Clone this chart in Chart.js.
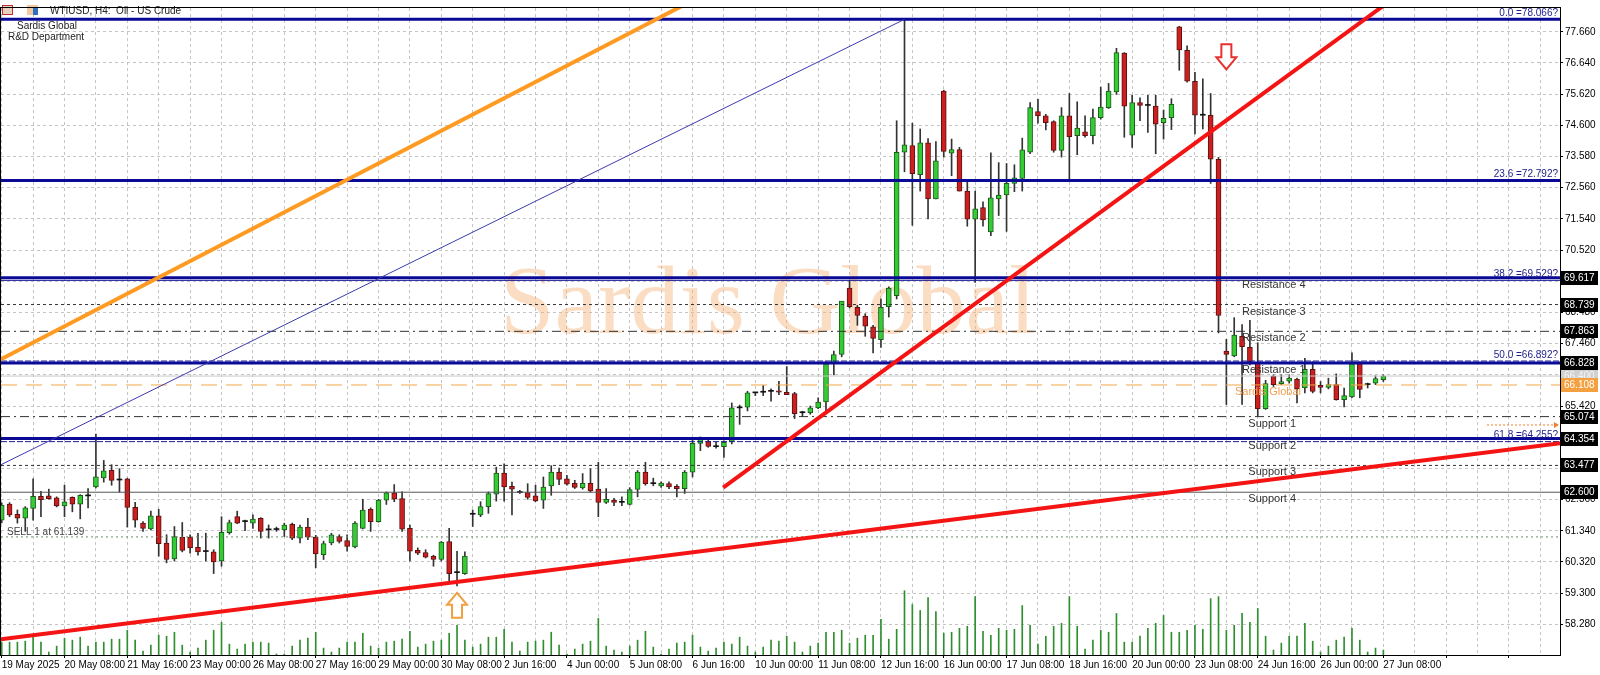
<!DOCTYPE html>
<html>
<head>
<meta charset="utf-8">
<script src="https://cdn.jsdelivr.net/npm/chart.js@4.4.1/dist/chart.umd.min.js"></script>
<style>
html, body { margin: 0; padding: 0; background: #fff; }
canvas { display: block; }
</style>
</head>
<body>
<canvas id="chart" width="1600" height="675"></canvas>
<script>
// WTIUSD H4 candles, 19 May - 27 Jun 2025
const xLabels = ['19 May 2025', '20 May 08:00', '21 May 16:00', '23 May 00:00', '26 May 08:00', '27 May 16:00',
	'29 May 00:00', '30 May 08:00', '2 Jun 16:00', '4 Jun 00:00', '5 Jun 08:00', '6 Jun 16:00', '10 Jun 00:00',
	'11 Jun 08:00', '12 Jun 16:00', '16 Jun 00:00', '17 Jun 08:00', '18 Jun 16:00', '20 Jun 00:00',
	'23 Jun 08:00', '24 Jun 16:00', '26 Jun 00:00', '27 Jun 08:00'];

const yTicks = [58.28, 59.30, 60.32, 61.34, 62.36, 63.38, 64.40, 65.42, 66.44, 67.46,
	68.48, 69.50, 70.52, 71.54, 72.56, 73.58, 74.60, 75.62, 76.64, 77.66];

const opens = [
	61.69, 62.21, 61.88, 61.75, 62.07, 62.47, 62.48, 62.42, 62.15, 62.43,
	62.21, 62.48, 62.77, 63.07, 63.32, 63.00, 63.04, 62.11, 61.59, 61.40,
	61.83, 60.94, 60.42, 61.13, 61.13, 60.80, 60.66, 60.65, 60.35, 61.28,
	61.80, 61.64, 61.59, 61.75, 61.37, 61.38, 61.37, 61.55, 61.10, 61.46,
	61.13, 60.56, 60.94, 61.15, 61.02, 60.81, 61.42, 62.04, 61.64, 62.34,
	62.58, 62.39, 61.42, 60.70, 60.63, 60.51, 60.40, 60.99, 59.97, 59.94,
	61.88, 61.86, 62.13, 62.54, 63.23, 62.79, 62.59, 62.59, 62.48, 62.34,
	62.81, 63.26, 63.04, 62.89, 62.74, 62.89, 62.70, 62.27, 62.34, 62.27,
	62.20, 62.69, 63.26, 62.88, 62.81, 62.88, 62.79, 62.72, 63.26, 64.20,
	64.26, 64.09, 64.09, 64.26, 65.36, 65.38, 65.85, 65.87, 65.90, 65.92,
	65.87, 65.83, 65.20, 65.20, 65.36, 65.55, 66.84, 67.11, 69.28, 68.65,
	68.36, 68.01, 67.59, 68.67, 69.03, 73.72, 73.94, 72.99, 74.03, 72.19,
	75.72, 73.69, 73.81, 72.45, 71.53, 71.91, 71.11, 72.19, 72.32, 72.70,
	72.86, 73.72, 75.05, 74.91, 74.72, 73.78, 74.91, 74.26, 74.39, 74.26,
	74.85, 75.18, 75.69, 76.96, 74.28, 75.34, 75.25, 75.23, 74.69, 74.85,
	77.82, 77.05, 76.04, 74.93, 74.93, 73.49, 67.22, 67.06, 67.70, 67.34,
	66.84, 65.33, 66.39, 66.15, 66.23, 66.30, 66.01, 66.62, 66.10, 66.03,
	66.12, 65.63, 65.72, 66.80, 66.12, 66.17, 66.28];

const highs = [
	62.25, 62.26, 62.02, 62.13, 63.04, 62.63, 62.70, 62.45, 62.83, 62.45,
	62.52, 62.72, 64.50, 63.64, 63.50, 63.37, 63.06, 62.27, 61.64, 61.98,
	62.04, 61.21, 61.48, 61.61, 61.21, 61.26, 61.26, 60.72, 61.80, 61.69,
	61.98, 61.69, 61.86, 61.77, 61.53, 61.46, 61.59, 61.59, 61.53, 61.75,
	61.19, 61.00, 61.26, 61.21, 61.21, 61.64, 62.37, 62.09, 62.37, 62.61,
	62.85, 62.61, 61.53, 60.78, 60.72, 60.54, 60.99, 61.42, 60.67, 60.65,
	62.02, 62.29, 62.61, 63.42, 63.53, 62.93, 62.66, 62.88, 62.83, 63.10,
	63.47, 63.39, 63.15, 62.99, 63.21, 63.37, 63.58, 62.72, 62.40, 62.45,
	62.75, 63.31, 63.58, 63.06, 62.94, 62.94, 62.85, 63.31, 64.39, 64.41,
	64.34, 64.23, 64.28, 65.52, 65.45, 65.90, 65.87, 66.09, 65.98, 66.23,
	66.71, 65.87, 65.25, 65.42, 65.69, 66.87, 67.22, 68.81, 69.52, 68.71,
	68.44, 68.06, 68.92, 69.32, 74.75, 78.07, 74.67, 74.48, 74.17, 74.07,
	75.75, 74.15, 73.88, 72.75, 72.45, 72.10, 73.70, 73.38, 73.35, 73.31,
	74.18, 75.34, 75.45, 74.96, 74.75, 75.18, 75.64, 75.37, 74.91, 75.13,
	75.85, 75.97, 77.12, 76.98, 75.58, 75.50, 75.58, 75.58, 75.10, 75.47,
	77.84, 77.20, 76.33, 76.12, 75.64, 73.55, 67.60, 68.31, 68.08, 68.22,
	67.49, 66.26, 66.44, 66.44, 66.44, 66.33, 66.98, 66.87, 66.22, 66.33,
	66.47, 66.01, 67.16, 66.87, 66.17, 66.41, 66.44];

const lows = [
	61.60, 61.80, 61.59, 61.32, 61.69, 61.80, 62.37, 62.12, 61.80, 61.96,
	61.73, 62.09, 62.74, 62.93, 62.83, 62.61, 61.46, 61.46, 61.32, 61.37,
	60.51, 60.29, 60.35, 60.65, 60.61, 60.54, 60.35, 59.94, 60.18, 61.23,
	61.57, 61.34, 61.42, 61.10, 61.10, 61.32, 61.15, 61.05, 60.94, 61.05,
	60.13, 60.40, 60.88, 60.94, 60.67, 60.78, 61.40, 61.32, 61.62, 62.20,
	62.29, 61.32, 60.35, 60.56, 60.45, 60.18, 60.35, 59.70, 59.54, 59.91,
	61.48, 61.80, 61.91, 62.31, 62.31, 61.86, 62.56, 62.37, 62.29, 62.07,
	62.50, 62.85, 62.83, 62.72, 62.70, 62.61, 61.80, 62.23, 62.16, 62.16,
	62.18, 62.45, 62.83, 62.81, 62.76, 62.72, 62.45, 62.56, 63.10, 63.96,
	64.07, 64.04, 63.74, 64.18, 64.82, 65.26, 65.76, 65.76, 65.58, 65.79,
	65.79, 65.01, 65.07, 65.15, 65.33, 65.20, 66.44, 67.03, 68.63, 68.06,
	67.70, 67.16, 67.34, 68.33, 68.92, 73.08, 71.33, 72.45, 71.54, 72.19,
	73.56, 72.95, 72.45, 71.30, 69.46, 71.30, 70.99, 71.65, 71.13, 72.43,
	72.45, 73.67, 74.67, 74.45, 73.72, 73.56, 72.81, 73.64, 74.21, 73.99,
	74.80, 75.15, 75.61, 74.21, 73.88, 74.75, 74.37, 73.67, 74.15, 74.46,
	76.40, 76.01, 74.32, 74.48, 72.70, 67.81, 65.47, 67.03, 65.47, 66.76,
	65.09, 65.31, 66.06, 66.12, 66.17, 65.52, 65.85, 65.85, 65.85, 65.98,
	65.61, 65.39, 65.69, 65.69, 66.01, 66.12, 66.22];

const closes = [
	62.18, 61.86, 61.75, 62.09, 62.47, 62.36, 62.39, 62.15, 62.29, 62.21,
	62.50, 62.48, 63.10, 63.30, 62.99, 63.00, 62.10, 61.69, 61.42, 61.83,
	60.92, 60.40, 61.15, 60.70, 60.78, 60.65, 60.66, 60.32, 61.29, 61.61,
	61.59, 61.64, 61.72, 61.32, 61.37, 61.38, 61.53, 61.10, 61.46, 61.13,
	60.58, 60.92, 61.21, 60.99, 60.83, 61.59, 62.02, 61.64, 62.34, 62.58,
	62.37, 61.39, 60.67, 60.61, 60.48, 60.40, 60.97, 59.94, 59.97, 60.51,
	61.88, 62.13, 62.56, 63.23, 62.77, 62.70, 62.59, 62.43, 62.32, 62.77,
	63.26, 63.02, 62.86, 62.76, 62.89, 62.64, 62.27, 62.37, 62.27, 62.27,
	62.69, 63.26, 62.88, 62.88, 62.90, 62.77, 62.72, 63.26, 64.20, 64.38,
	64.10, 64.09, 64.23, 65.36, 65.36, 65.85, 65.85, 65.87, 65.90, 65.87,
	65.79, 65.17, 65.20, 65.36, 65.55, 66.80, 67.10, 68.85, 68.67, 68.38,
	68.03, 67.63, 68.65, 69.28, 73.72, 73.96, 73.02, 74.03, 72.19, 73.44,
	73.75, 73.81, 72.45, 71.53, 71.87, 71.51, 72.23, 72.32, 72.70, 72.88,
	73.80, 75.18, 74.91, 74.69, 73.78, 74.91, 74.23, 74.51, 74.26, 74.85,
	75.20, 75.72, 76.98, 75.23, 75.34, 75.25, 75.25, 74.64, 74.83, 75.29,
	77.07, 76.04, 74.93, 74.93, 73.49, 68.38, 67.11, 67.74, 67.36, 66.87,
	65.33, 66.15, 66.12, 66.22, 66.33, 65.98, 66.62, 65.90, 66.03, 66.12,
	65.63, 65.76, 66.80, 65.96, 66.12, 66.32, 66.40];

// tick volume, in the pane's own units
const volumes = [
	13, 13, 13, 14, 18, 13, 3, 9, 17, 15, 18, 9, 13, 13, 16, 16, 25, 15, 4, 10,
	20, 19, 23, 10, 3, 7, 15, 25, 33, 11, 6, 11, 13, 13, 12, 1, 1, 9, 15, 17,
	23, 7, 3, 7, 13, 13, 22, 9, 7, 13, 14, 16, 24, 8, 11, 14, 15, 22, 30, 15,
	8, 11, 18, 18, 26, 13, 4, 13, 14, 15, 23, 10, 1, 6, 11, 14, 37, 9, 5, 3,
	9, 15, 24, 8, 1, 6, 12, 13, 20, 8, 4, 7, 13, 11, 18, 9, 3, 8, 15, 14,
	19, 13, 3, 9, 12, 23, 23, 25, 12, 17, 20, 20, 36, 16, 26, 65, 51, 45, 58, 44,
	22, 23, 27, 29, 59, 24, 20, 27, 25, 26, 50, 30, 11, 19, 29, 32, 59, 29, 6, 15,
	25, 23, 42, 13, 13, 19, 27, 32, 40, 23, 23, 25, 30, 26, 57, 59, 25, 30, 42, 33,
	47, 19, 5, 12, 19, 19, 32, 14, 3, 9, 15, 18, 27, 15, 3, 7, 5];

// levels drawn on the chart
const fibLevels = [78.066, 72.792, 69.529, 66.892, 64.255];
const fibNames = ['0.0', '23.6', '38.2', '50.0', '61.8'];
const resistance = [66.828, 67.863, 68.739, 69.617];   // R1..R4
const support = [65.074, 64.354, 63.477, 62.600];      // S1..S4
const sardisLevel = 66.108;
const sellLevel = 61.139;
const orderLevel = 64.80;

// trend lines: [bar, price] end points
const orangeTrend = [[-0.1, 66.95], [100, 80.28]];
const blueDiag = [[-0.1, 63.50], [115, 78.066]];
const redLower = [[-0.1, 57.79], [198.5, 64.20]];
const redSteep = [[91.9, 62.75], [180, 79.26]];

// arrows: [bar, tip price]
const upArrow = [58, 59.31];
const downArrow = [156, 76.43];

const X_MIN = -0.09, X_MAX = 198.5;
const FONT = '"Liberation Sans", Arial, sans-serif';

const bars = opens.map((v, i) => i);
const lastClose = closes[closes.length - 1];

function candleColor(i, up, down, flat) {
	if (closes[i] > opens[i]) return up;
	if (closes[i] < opens[i]) return down;
	return flat;
}

function hLine(value, color, width, dash) {
	return {
		type: 'line',
		data: [{x: X_MIN, y: value}, {x: X_MAX, y: value}],
		borderColor: color, borderWidth: width, borderDash: dash || [],
		pointRadius: 0, order: 5
	};
}

function trend(pts, color, width) {
	return {
		type: 'line',
		data: pts.map(p => ({x: p[0], y: p[1]})),
		borderColor: color, borderWidth: width,
		pointRadius: 0, order: 3
	};
}

const dotted = [3, 3];
const dashDot = [9, 4, 2, 4];

const datasets = [
	{
		type: 'bar', yAxisID: 'yv', grouped: false, order: 10,
		data: bars.map(i => ({x: i, y: volumes[i]})),
		backgroundColor: '#2f8f2f', barThickness: 1
	},
	{
		type: 'bar', grouped: false, order: 9,
		data: bars.map(i => ({x: i, y: [lows[i], highs[i]]})),
		backgroundColor: '#333', barThickness: 1
	},
	{
		type: 'bar', grouped: false, order: 8,
		data: bars.map(i => ({x: i, y: [Math.min(opens[i], closes[i]), Math.max(opens[i], closes[i])]})),
		backgroundColor: bars.map(i => candleColor(i, '#33cc33', '#cc2020', '#111')),
		borderColor: bars.map(i => candleColor(i, '#1d5c1d', '#5c1010', '#111')),
		borderWidth: bars.map(i => closes[i] === opens[i] ? 0 : 1),
		borderSkipped: false, barThickness: 5, minBarLength: 1
	},
	// fib levels
	hLine(fibLevels[0], '#0a0a96', 3),
	hLine(fibLevels[1], '#0a0a96', 3),
	hLine(fibLevels[2], '#1a1a9a', 1),
	hLine(fibLevels[3], '#1a1a9a', 1, [6, 2]),
	hLine(fibLevels[4], '#1a1a9a', 1, [6, 2]),
	// resistance / support
	hLine(resistance[0], '#0a0a96', 3),
	hLine(resistance[1], '#333', 1, dashDot),
	hLine(resistance[2], '#333', 1, dotted),
	hLine(resistance[3], '#0a0a96', 3),
	hLine(support[0], '#333', 1, dashDot),
	hLine(support[1], '#0a0a96', 3),
	hLine(support[2], '#333', 1, dotted),
	hLine(support[3], '#555', 1),
	hLine(sardisLevel, '#f0a848', 1, [16, 9]),
	hLine(sellLevel, '#6f8f6f', 1, [2, 3]),
	hLine(lastClose, '#c8c8c8', 1),
	// trend lines
	trend(orangeTrend, '#ff9a22', 4),
	trend(blueDiag, '#3a3ab0', 1),
	trend(redLower, '#f51414', 4),
	trend(redSteep, '#f51414', 4)
];

function drawArrow(ctx, x, y, dir, stroke) {
	// hollow block arrow, tip at (x, y); dir -1 points up, +1 points down
	const hw = 10, sw = 5, hh = 12, len = 25;
	ctx.beginPath();
	ctx.moveTo(x, y);
	ctx.lineTo(x + hw, y - dir * hh);
	ctx.lineTo(x + sw, y - dir * hh);
	ctx.lineTo(x + sw, y - dir * len);
	ctx.lineTo(x - sw, y - dir * len);
	ctx.lineTo(x - sw, y - dir * hh);
	ctx.lineTo(x - hw, y - dir * hh);
	ctx.closePath();
	ctx.fillStyle = '#fff';
	ctx.fill();
	ctx.strokeStyle = stroke;
	ctx.lineWidth = 2;
	ctx.stroke();
}

const decorPlugin = {
	id: 'decor',
	beforeDatasetsDraw(chart) {
		const ctx = chart.ctx;
		ctx.save();
		// watermark
		ctx.font = '98px "Liberation Serif", "DejaVu Serif", serif';
		ctx.fillStyle = 'rgba(245, 180, 120, 0.45)';
		ctx.textAlign = 'center';
		ctx.textBaseline = 'alphabetic';
		ctx.fillText('Sardis Global', 768, 333);
		// header
		ctx.fillStyle = '#e8d0c0';
		ctx.fillRect(2, 5, 11, 10);
		ctx.strokeStyle = '#c03030';
		ctx.lineWidth = 1;
		ctx.strokeRect(2.5, 5.5, 10, 9);
		ctx.fillStyle = '#f2c8a0';
		ctx.fillRect(27, 5, 11, 10);
		ctx.fillStyle = '#3070c0';
		ctx.fillRect(33, 8, 5, 7);
		ctx.font = '10px ' + FONT;
		ctx.fillStyle = '#222';
		ctx.textAlign = 'left';
		ctx.textBaseline = 'middle';
		ctx.fillText('WTIUSD, H4:  Oil - US Crude', 50, 11);
		ctx.textAlign = 'center';
		ctx.fillText('Sardis Global', 47, 26);
		ctx.fillText('R&D Department', 46, 37);
		ctx.restore();
	},
	afterDatasetsDraw(chart) {
		const ctx = chart.ctx;
		const xs = chart.scales.x, ys = chart.scales.y;
		const area = chart.chartArea;
		ctx.save();
		ctx.beginPath();
		ctx.rect(area.left, area.top, area.right - area.left, area.bottom - area.top);
		ctx.clip();

		// fib labels, right aligned above each level
		ctx.font = '10px ' + FONT;
		ctx.fillStyle = '#22228c';
		ctx.textAlign = 'right';
		ctx.textBaseline = 'bottom';
		fibLevels.forEach((v, k) => {
			ctx.fillText(fibNames[k] + ' =' + v.toFixed(3) + '?', area.right - 2, ys.getPixelForValue(v) - 1);
		});

		// resistance / support names
		ctx.font = '11px ' + FONT;
		ctx.fillStyle = '#333';
		ctx.textAlign = 'left';
		ctx.textBaseline = 'middle';
		resistance.forEach((v, k) => {
			ctx.fillText('Resistance ' + (k + 1), xs.getPixelForValue(158), ys.getPixelForValue(v) + 7);
		});
		support.forEach((v, k) => {
			ctx.fillText('Support ' + (k + 1), xs.getPixelForValue(158.8), ys.getPixelForValue(v) + 7);
		});
		ctx.fillStyle = '#f0a050';
		ctx.fillText('Sardis Global', xs.getPixelForValue(157.1), ys.getPixelForValue(sardisLevel) + 7);

		ctx.font = '10px ' + FONT;
		ctx.fillStyle = '#444';
		ctx.fillText('SELL 1 at ' + sellLevel.toFixed(3), 7, ys.getPixelForValue(sellLevel) - 5);

		// pending order marker
		const oy = ys.getPixelForValue(orderLevel);
		ctx.strokeStyle = '#f08030';
		ctx.lineWidth = 1;
		ctx.setLineDash([2, 2]);
		ctx.beginPath();
		ctx.moveTo(xs.getPixelForValue(189.2), oy);
		ctx.lineTo(area.right - 4, oy);
		ctx.stroke();
		ctx.setLineDash([]);
		ctx.fillStyle = '#f08030';
		ctx.beginPath();
		ctx.moveTo(area.right - 1, oy);
		ctx.lineTo(area.right - 6, oy - 3);
		ctx.lineTo(area.right - 6, oy + 3);
		ctx.closePath();
		ctx.fill();

		drawArrow(ctx, xs.getPixelForValue(upArrow[0]), ys.getPixelForValue(upArrow[1]), -1, '#f0a040');
		drawArrow(ctx, xs.getPixelForValue(downArrow[0]), ys.getPixelForValue(downArrow[1]), 1, '#e83030');
		ctx.restore();
	},
	afterDraw(chart) {
		const ctx = chart.ctx;
		const ys = chart.scales.y;
		const area = chart.chartArea;
		ctx.save();
		// frame
		ctx.strokeStyle = '#000';
		ctx.lineWidth = 1;
		ctx.strokeRect(area.left - 0.5, area.top - 0.5, area.right - area.left + 1, area.bottom - area.top + 1);

		// price boxes on the axis
		const boxes = [
			[lastClose, '#d0d0d0', '#f4f4f4'],
			[resistance[3], '#000', '#fff'],
			[resistance[2], '#000', '#fff'],
			[resistance[1], '#000', '#fff'],
			[resistance[0], '#000', '#fff'],
			[sardisLevel, '#f4a040', '#fff'],
			[support[0], '#000', '#fff'],
			[support[1], '#000', '#fff'],
			[support[2], '#000', '#fff'],
			[support[3], '#000', '#fff']
		];
		ctx.font = '10px ' + FONT;
		ctx.textAlign = 'left';
		ctx.textBaseline = 'middle';
		boxes.forEach(b => {
			const y = Math.round(ys.getPixelForValue(b[0]));
			ctx.fillStyle = b[1];
			ctx.fillRect(area.right + 1, y - 7, 37, 14);
			ctx.fillStyle = b[2];
			ctx.fillText(b[0].toFixed(3), area.right + 4, y + 0.5);
		});
		ctx.restore();
	}
};

Chart.defaults.font.family = FONT;
Chart.defaults.font.size = 10;
Chart.defaults.color = '#000';

new Chart(document.getElementById('chart'), {
	data: {datasets: datasets},
	plugins: [decorPlugin],
	options: {
		responsive: false,
		animation: false,
		devicePixelRatio: 1,
		layout: {padding: {top: 1, left: 1, right: 0, bottom: 0}},
		plugins: {legend: {display: false}, tooltip: {enabled: false}},
		scales: {
			x: {
				type: 'linear', min: X_MIN, max: X_MAX, offset: false,
				afterBuildTicks: (scale) => {
					const t = [];
					for (let v = 0; v <= 196; v += 4) t.push({value: v});
					scale.ticks = t;
				},
				afterFit: (scale) => { scale.height = 20; },
				grid: {
					offset: false,
					color: '#c4c4c4', lineWidth: 1, tickLength: 3,
					tickColor: (c) => (c.tick && c.tick.value % 8 === 0) ? '#000' : 'rgba(0,0,0,0)'
				},
				border: {display: false, dash: [3, 3]},
				ticks: {
					autoSkip: false, maxRotation: 0, align: 'start', padding: 1,
					font: {size: 10, family: FONT}, color: '#000',
					callback: (v) => (v % 8 === 0 && xLabels[v / 8]) ? xLabels[v / 8] : ''
				}
			},
			y: {
				type: 'linear', position: 'right', min: 57.277, max: 78.437,
				afterBuildTicks: (scale) => { scale.ticks = yTicks.map(v => ({value: v})); },
				afterFit: (scale) => { scale.width = 40; },
				grid: {color: '#c4c4c4', lineWidth: 1, tickLength: 3, tickColor: '#000'},
				border: {display: false, dash: [3, 3]},
				ticks: {
					padding: 2, font: {size: 10, family: FONT}, color: '#000',
					callback: (v) => v.toFixed(3)
				}
			},
			yv: {
				type: 'linear', display: false, min: 0, max: 654,
				grid: {display: false}
			}
		}
	}
});
</script>
</body>
</html>
